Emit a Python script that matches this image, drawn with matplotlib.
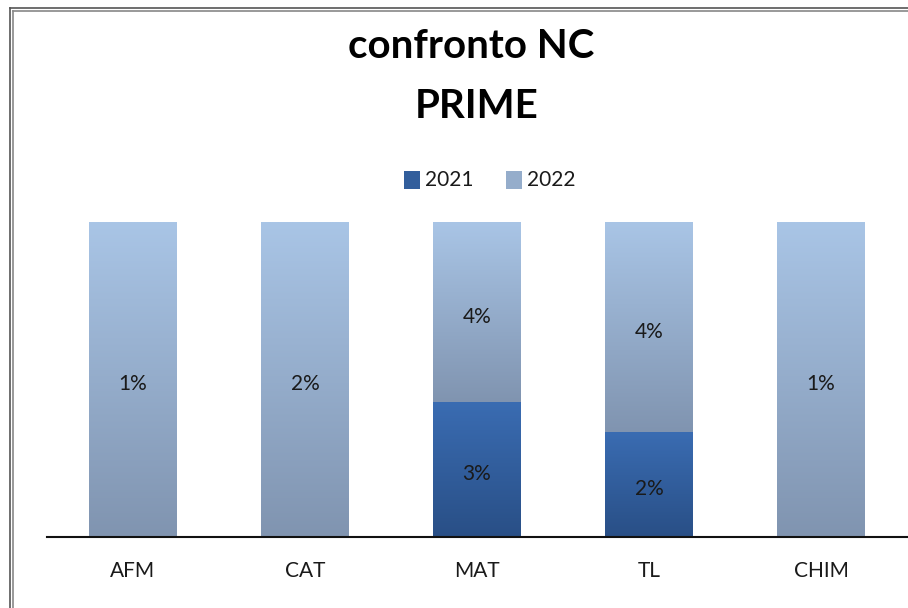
import matplotlib
matplotlib.use("Agg")
import matplotlib.pyplot as plt
import numpy as np
from matplotlib.colors import LinearSegmentedColormap
from matplotlib.patches import Rectangle

categories = ["AFM", "CAT", "MAT", "TL", "CHIM"]
vals_2021 = [0, 0, 3, 2, 0]
vals_2022 = [1, 2, 4, 4, 1]
series_names = ["2021", "2022"]

plt.rcParams['font.family'] = ['Lato', 'DejaVu Sans']

W, H = 908, 608
fig = plt.figure(figsize=(W/100, H/100), dpi=100)
ax = fig.add_axes([47/W, 1-537/H, (907-47)/W, (537-222)/H])

x = np.arange(len(categories))
tot = np.array(vals_2021, float) + np.array(vals_2022, float)
p21 = np.array(vals_2021) / tot
p22 = np.array(vals_2022) / tot
width = 0.51

b1 = ax.bar(x, p21, width, color='none', edgecolor='none')
b2 = ax.bar(x, p22, width, bottom=p21, color='none', edgecolor='none')

cm21 = LinearSegmentedColormap.from_list('c21', ['#294f86', '#3a6cb2'])
cm22 = LinearSegmentedColormap.from_list('c22', ['#8094b0', '#a9c5e6'])
grad = np.linspace(0, 1, 256).reshape(-1, 1)

def fill(bars, cmap, vals):
    for r, v in zip(bars, vals):
        if r.get_height() <= 0:
            continue
        x0, y0 = r.get_x(), r.get_y()
        ax.imshow(grad, cmap=cmap, origin='lower', aspect='auto',
                  extent=[x0, x0 + r.get_width(), y0, y0 + r.get_height()],
                  zorder=2)
        if v > 0:
            ax.text(x0 + r.get_width()/2, y0 + r.get_height()/2 - 0.008, f"{v}%",
                    ha='center', va='center_baseline', fontsize=15, color='#1a1a1a', zorder=3)

fill(b1, cm21, vals_2021)
fill(b2, cm22, vals_2022)

ax.set_xlim(-0.5, len(categories) - 0.5)
ax.set_ylim(0, 1)
ax.set_yticks([])
ax.set_xticks(x)
ax.set_xticklabels(categories, fontsize=15, color='#1a1a1a')
ax.tick_params(axis='x', length=0, pad=17)
for s in ['top', 'right', 'left']:
    ax.spines[s].set_visible(False)
ax.spines['bottom'].set_linewidth(1.5)
ax.spines['bottom'].set_color('#111111')

fig.text(471/W, 1-46/H, "confronto NC", ha='center', va='center',
         fontsize=29, fontweight='bold', color='black')
fig.text(477/W, 1-106/H, "PRIME", ha='center', va='center',
         fontsize=29, fontweight='bold', color='black')

# legend
for i, (name, cm) in enumerate(zip(series_names, [cm21, cm22])):
    xx = [404, 506][i]
    fig.patches.append(Rectangle((xx/W, 1-189/H), 16/W, 18/H, transform=fig.transFigure,
                                 facecolor=cm(0.5), edgecolor='none'))
    fig.text((xx+21)/W, 1-180/H, name, ha='left', va='center', fontsize=15, color='#1a1a1a')

# border
for off, col in [(0, '#555555'), (3, '#888888')]:
    fig.add_artist(plt.Line2D([(10+off)/W, (10+off)/W], [0, 1-(8+off)/H],
                              transform=fig.transFigure, color=col, lw=1.2))
    fig.add_artist(plt.Line2D([(10+off)/W, 1], [1-(8+off)/H, 1-(8+off)/H],
                              transform=fig.transFigure, color=col, lw=1.2))

fig.savefig("out.png", dpi=100)
